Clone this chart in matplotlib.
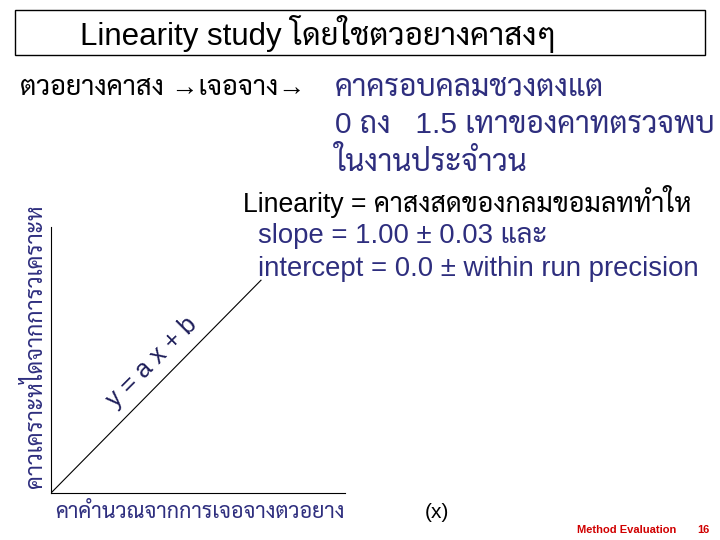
import matplotlib
matplotlib.use("Agg")
import matplotlib.pyplot as plt

# ---- data ----
line_x = [0.0, 1.0]
line_y = [0.0, 1.0]
x_limits = [0.0, 1.4]
y_limits = [0.0, 1.25]

title_text = "Linearity study โดยใชตวอยางคาสงๆ"
row_left = "ตวอยางคาสง →เจอจาง→"
row_right = ["คาครอบคลมชวงตงแต", "0 ถง   1.5 เทาของคาทตรวจพบ", "ในงานประจำวน"]
lin_head = "Linearity = คาสงสดของกลมขอมลททำให"
lin_lines = ["slope = 1.00 ± 0.03 และ", "intercept = 0.0 ± within run precision"]
y_label = "คาวเคราะหไดจากการวเคราะห"
x_label = "คาคำนวณจากการเจอจางตวอยาง"
eq_label = "y = a x + b"
x_unit = "(x)"
footer = "Method Evaluation"
page_no = "16"

NAVY = "#2e2e7e"
THAI = "Sarabun"
LAT = ["Liberation Sans", THAI, "DejaVu Sans"]
plt.rcParams["font.family"] = LAT

fig = plt.figure(figsize=(7.2, 5.4), dpi=100)
W, H = 720, 540


def fx(px):
    return px / W


def fy(py):
    return 1 - py / H


# title box
fig.patches.append(plt.Rectangle((fx(15), fy(55)), fx(705) - fx(15), fy(10) - fy(55),
                                 transform=fig.transFigure, fill=False, ec="black", lw=1))
fig.text(fx(80), fy(34), title_text, fontsize=22.5, va="center", ha="left", color="black")

fig.text(fx(20), fy(88), row_left, fontsize=19.5, va="center", ha="left", color="black")
for i, t in enumerate(row_right):
    fig.text(fx(335), fy(88 + 37 * i), t, fontsize=21.5, va="center", ha="left", color=NAVY)

fig.text(fx(243), fy(202), lin_head, fontsize=19.2, va="center", ha="left", color="black")
for i, t in enumerate(lin_lines):
    fig.text(fx(258), fy(236 + 33 * i), t, fontsize=19.8, va="center", ha="left", color=NAVY)

ax = fig.add_axes([fx(51), fy(493), fx(345) - fx(51), fy(227) - fy(493)])
ax.plot(line_x, line_y, color="black", lw=0.8)
ax.set_xlim(x_limits)
ax.set_ylim(y_limits)
ax.spines["top"].set_visible(False)
ax.spines["right"].set_visible(False)
ax.set_xticks([])
ax.set_yticks([])
ax.patch.set_alpha(0)

fig.text(fx(35), fy(346), y_label, fontsize=16.5, rotation=90, va="center", ha="center", color=NAVY)
fig.text(fx(200), fy(513), x_label, fontsize=15.5, va="center", ha="center", color=NAVY)
fig.text(fx(152), fy(362), eq_label, fontsize=18, rotation=45, va="center", ha="center",
         color="#1e1e5a")
fig.text(fx(437), fy(512), x_unit, fontsize=15, va="center", ha="center", color="black")
fig.text(fx(577), fy(530), footer, fontsize=8, va="center", ha="left", color="#d00000",
         fontweight="bold")
fig.text(fx(703), fy(530), page_no, fontsize=8, va="center", ha="center", color="#d00000",
         fontweight="bold")

fig.savefig("out.png", dpi=100)
